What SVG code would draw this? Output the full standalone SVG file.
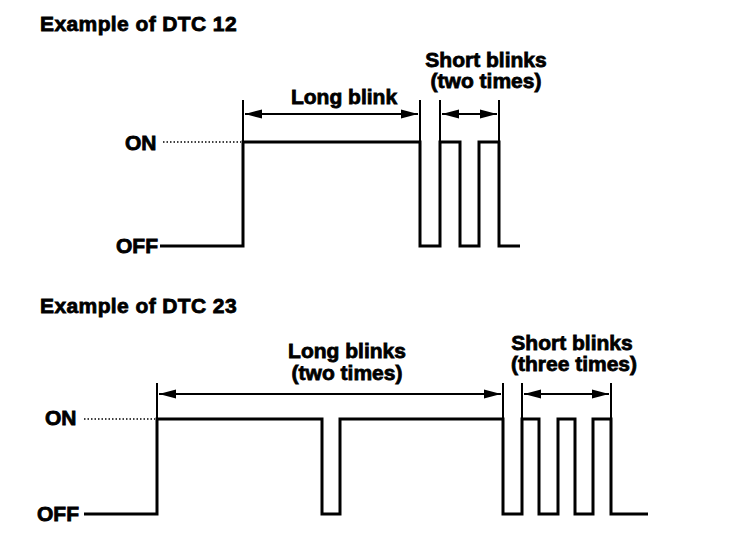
<svg xmlns="http://www.w3.org/2000/svg" width="736" height="550" viewBox="0 0 736 550">
<defs>
<marker id="ah" markerUnits="userSpaceOnUse" markerWidth="20" markerHeight="12" refX="17" refY="6" orient="auto-start-reverse">
<path d="M0,1.5 L17,6 L0,10.5 Z" fill="#000"/>
</marker>
<style>
text{font-family:"Liberation Sans",Arial,sans-serif;font-weight:bold;font-size:21px;fill:#000;stroke:#000;stroke-width:0.8}
.title{letter-spacing:0.4px}
.wave{fill:none;stroke:#000;stroke-width:3;stroke-linejoin:miter}
.dot{fill:none;stroke:#000;stroke-width:1.5;stroke-dasharray:1.5 2}
.tick{stroke:#000;stroke-width:2}
.arr{stroke:#000;stroke-width:2.2;fill:none;marker-start:url(#ah);marker-end:url(#ah)}
</style>
</defs>
<rect width="736" height="550" fill="#fff"/>

<g id="dtc12">
<g id="title12"><text class="title" x="40" y="31">Example of DTC 12</text></g>
<g id="on12"><text x="125" y="150">ON</text></g>
<g id="off12"><text x="116" y="253">OFF</text></g>
<g id="label-long12"><text x="344" y="104" text-anchor="middle">Long blink</text></g>
<g id="label-short12">
<text x="486" y="67" text-anchor="middle">Short blinks</text>
<text x="486" y="88" text-anchor="middle">(two times)</text>
</g>
<g id="wave12">
<line class="dot" x1="163" y1="142" x2="241" y2="142"/>
<path class="wave" d="M160,246 H243 V142 H420 V246 H440 V142 H460 V246 H479 V142 H499 V246 H520"/>
</g>
</g>

<g id="dtc23">
<g id="title23"><text class="title" x="40" y="313">Example of DTC 23</text></g>
<g id="on23"><text x="45" y="425">ON</text></g>
<g id="off23"><text x="37" y="521">OFF</text></g>
<g id="label-long23">
<text x="347" y="358" text-anchor="middle">Long blinks</text>
<text x="347" y="380" text-anchor="middle">(two times)</text>
</g>
<g id="label-short23">
<text x="572" y="350" text-anchor="middle">Short blinks</text>
<text x="574" y="371" text-anchor="middle">(three times)</text>
</g>
<g id="wave23">
<line class="dot" x1="84" y1="419" x2="155" y2="419"/>
<path class="wave" d="M84,514 H157 V419 H322 V514 H340 V419 H503 V514 H522 V419 H539 V514 H558 V419 H575 V514 H593 V419 H611 V514 H648"/>
</g>
</g>

<g id="connectors">
<line class="tick" x1="243" y1="100" x2="243" y2="141"/>
<line class="tick" x1="420" y1="100" x2="420" y2="141"/>
<line class="tick" x1="440" y1="100" x2="440" y2="141"/>
<line class="tick" x1="499" y1="100" x2="499" y2="141"/>
<line class="arr" x1="245" y1="114" x2="418" y2="114"/>
<line class="arr" x1="442" y1="114" x2="497" y2="114"/>

<line class="tick" x1="157" y1="383" x2="157" y2="418"/>
<line class="tick" x1="503" y1="383" x2="503" y2="418"/>
<line class="tick" x1="522" y1="383" x2="522" y2="418"/>
<line class="tick" x1="611" y1="383" x2="611" y2="418"/>
<line class="arr" x1="159" y1="394" x2="501" y2="394"/>
<line class="arr" x1="524" y1="394" x2="609" y2="394"/>
</g>
</svg>
